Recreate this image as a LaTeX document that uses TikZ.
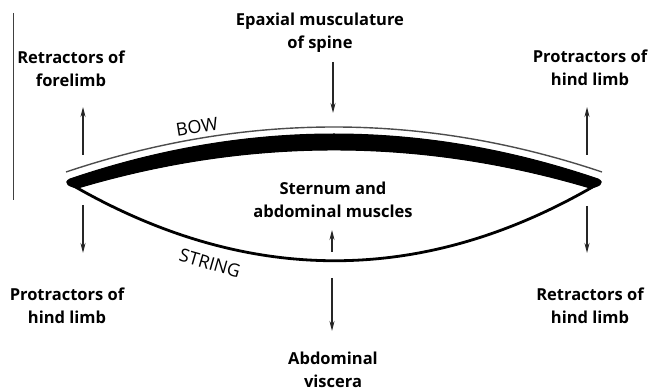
\documentclass[tikz,border=0pt]{standalone}
\usepackage{fontspec}
\setmainfont{Open Sans}
\usetikzlibrary{arrows.meta}
\begin{document}
\begin{tikzpicture}[x=1pt,y=-1pt,
  lbl/.style={font=\bfseries\fontsize{16.5}{23}\selectfont, align=center, text=black, inner sep=0pt},
  arr/.style={draw=black!85, line width=1.1pt, -{Stealth[length=10pt,width=5pt]}},
  tag/.style={font=\fontsize{18}{20}\selectfont, inner sep=0pt}]
\useasboundingbox (0,0) rectangle (649,390);
% left vertical rule
\coordinate (vt) at (13,13);
\coordinate (vb) at (13,200);
\draw[black!75, line width=0.9pt] (vt) -- (vb);
% bow
\coordinate (L) at (68,182);
\coordinate (R) at (600,182);
\draw[black!70, line width=1.4pt] (66,172) .. controls (244.7,112) and (423.3,112) .. (602,172);
\filldraw[black, line width=1pt, line join=round]
  (70,179) .. controls (246,119) and (422,119) .. (598,179)
  .. controls (606,183) and (598,187) .. (590,188)
  .. controls (419.3,137.3) and (248.7,137.3) .. (78,188)
  .. controls (70,187) and (62,183) .. (70,179) -- cycle;
% string
\draw[black, line width=2.8pt, line cap=round] (72,185) .. controls (247,286) and (423,286) .. (596,185);
\node[tag, rotate=9] (bow) at (197,127) {BOW};
\node[tag, rotate=-16] (string) at (210,263) {STRING};
% labels
\node[lbl] (retf) at (71,69) {Retractors of\\forelimb};
\node[lbl] (epax) at (320,33) {Epaxial musculature\\of spine};
\node[lbl] (proth) at (590,68) {Protractors of\\hind limb};
\node[lbl] (proth2) at (67,306) {Protractors of\\hind limb};
\node[lbl] (reth) at (590,306) {Retractors of\\hind limb};
\node[lbl] (stern) at (333,200) {Sternum and\\abdominal muscles};
\node[lbl] (visc) at (333,370) {Abdominal\\viscera};
% arrows
\coordinate (a1s) at (83,155); \coordinate (a1e) at (83,107);
\coordinate (a2s) at (83,205); \coordinate (a2e) at (83,253);
\coordinate (a3s) at (587,155); \coordinate (a3e) at (587,107);
\coordinate (a4s) at (587,206); \coordinate (a4e) at (587,253);
\coordinate (a5s) at (333,62); \coordinate (a5e) at (333,113);
\coordinate (a6s) at (332,252); \coordinate (a6e) at (332,230);
\coordinate (a7s) at (332,278); \coordinate (a7e) at (332,331);
\draw[arr] (a1s) -- (a1e);
\draw[arr] (a2s) -- (a2e);
\draw[arr] (a3s) -- (a3e);
\draw[arr] (a4s) -- (a4e);
\draw[arr] (a5s) -- (a5e);
\draw[arr] (a6s) -- (a6e);
\draw[arr] (a7s) -- (a7e);
\end{tikzpicture}
\end{document}
